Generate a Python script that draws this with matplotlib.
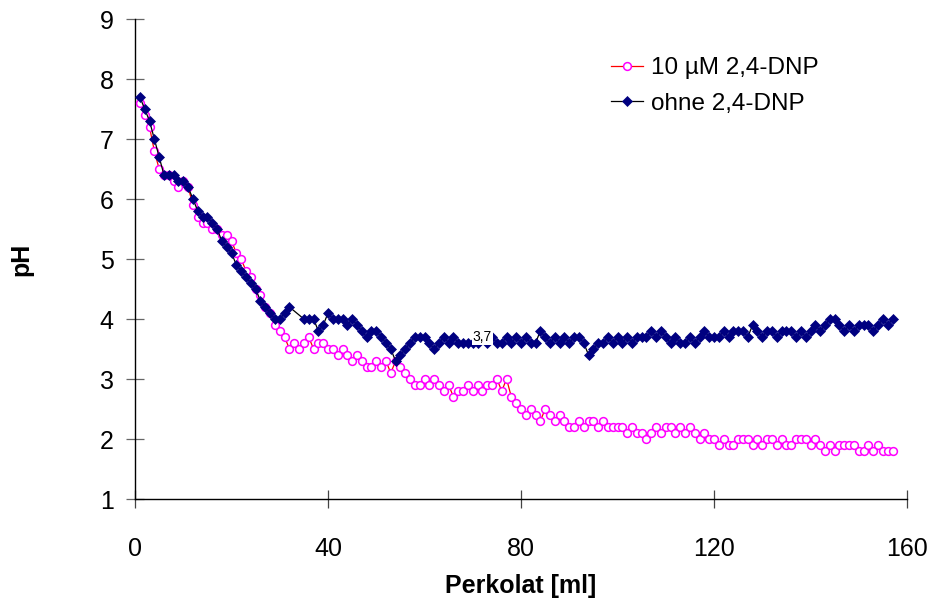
import matplotlib.pyplot as plt

plt.rcParams["font.family"] = ["Liberation Sans", "DejaVu Sans"]

# percolate volume in ml, one reading per ml
perkolat_ml = list(range(1, 158))

ph_dnp = [
    7.6, 7.4, 7.2, 6.8, 6.5, 6.4, 6.4, 6.3, 6.2, 6.3,
    6.2, 5.9, 5.7, 5.6, 5.6, 5.5, 5.5, 5.4, 5.4, 5.3,
    5.1, 5.0, 4.8, 4.7, 4.5, 4.4, 4.2, 4.1, 3.9, 3.8,
    3.7, 3.5, 3.6, 3.5, 3.6, 3.7, 3.5, 3.6, 3.6, 3.5,
    3.5, 3.4, 3.5, 3.4, 3.3, 3.4, 3.3, 3.2, 3.2, 3.3,
    3.2, 3.3, 3.1, 3.3, 3.2, 3.1, 3.0, 2.9, 2.9, 3.0,
    2.9, 3.0, 2.9, 2.8, 2.9, 2.7, 2.8, 2.8, 2.9, 2.8,
    2.9, 2.8, 2.9, 2.9, 3.0, 2.8, 3.0, 2.7, 2.6, 2.5,
    2.4, 2.5, 2.4, 2.3, 2.5, 2.4, 2.3, 2.4, 2.3, 2.2,
    2.2, 2.3, 2.2, 2.3, 2.3, 2.2, 2.3, 2.2, 2.2, 2.2,
    2.2, 2.1, 2.2, 2.1, 2.1, 2.0, 2.1, 2.2, 2.1, 2.2,
    2.2, 2.1, 2.2, 2.1, 2.2, 2.1, 2.0, 2.1, 2.0, 2.0,
    1.9, 2.0, 1.9, 1.9, 2.0, 2.0, 2.0, 1.9, 2.0, 1.9,
    2.0, 2.0, 1.9, 2.0, 1.9, 1.9, 2.0, 2.0, 2.0, 1.9,
    2.0, 1.9, 1.8, 1.9, 1.8, 1.9, 1.9, 1.9, 1.9, 1.8,
    1.8, 1.9, 1.8, 1.9, 1.8, 1.8, 1.8,
]

# None = no reading (line is drawn straight across)
ph_ohne = [
    7.7, 7.5, 7.3, 7.0, 6.7, 6.4, 6.4, 6.4, 6.3, 6.3,
    6.2, 6.0, 5.8, 5.7, 5.7, 5.6, 5.5, 5.3, 5.2, 5.1,
    4.9, 4.8, 4.7, 4.6, 4.5, 4.3, 4.2, 4.1, 4.0, 4.0,
    4.1, 4.2, None, None, 4.0, 4.0, 4.0, 3.8, 3.9, 4.1,
    4.0, 4.0, 4.0, 3.9, 4.0, 3.9, 3.8, 3.7, 3.8, 3.8,
    3.7, 3.6, 3.5, 3.3, 3.4, 3.5, 3.6, 3.7, 3.7, 3.7,
    3.6, 3.5, 3.6, 3.7, 3.6, 3.7, 3.6, 3.6, 3.6, 3.6,
    3.6, 3.7, 3.6, 3.7, 3.6, 3.6, 3.7, 3.6, 3.7, 3.6,
    3.7, 3.6, 3.6, 3.8, 3.7, 3.6, 3.7, 3.6, 3.7, 3.6,
    3.7, 3.7, 3.6, 3.4, 3.5, 3.6, 3.6, 3.7, 3.6, 3.7,
    3.6, 3.7, 3.6, 3.7, 3.7, 3.7, 3.8, 3.7, 3.8, 3.7,
    3.6, 3.7, 3.6, 3.6, 3.7, 3.6, 3.7, 3.8, 3.7, 3.7,
    3.7, 3.8, 3.7, 3.8, 3.8, 3.8, 3.7, 3.9, 3.8, 3.7,
    3.8, 3.8, 3.7, 3.8, 3.8, 3.8, 3.7, 3.8, 3.7, 3.8,
    3.9, 3.8, 3.9, 4.0, 4.0, 3.9, 3.8, 3.9, 3.8, 3.9,
    3.9, 3.9, 3.8, 3.9, 4.0, 3.9, 4.0,
]

label_ml = 72  # the single data label shown in the original

x_ticks = [0, 40, 80, 120, 160]
y_ticks = [1, 2, 3, 4, 5, 6, 7, 8, 9]

fig = plt.figure(figsize=(9.32, 6.0), dpi=100)
ax = fig.add_axes([0.1449, 0.1683, 0.8283, 0.80])

ax.plot(perkolat_ml, ph_dnp, color="#ff0000", lw=0.9,
        marker="o", ms=5.6, mfc="white", mec="#ff00ff", mew=1.1,
        label="10 \u00b5M 2,4-DNP", zorder=3)

x_ohne = [x for x, v in zip(perkolat_ml, ph_ohne) if v is not None]
y_ohne = [v for v in ph_ohne if v is not None]
ax.plot(x_ohne, y_ohne, color="black", lw=0.9,
        marker="D", ms=5.0, mfc="#000080", mec="#000080", mew=0.5,
        label="ohne 2,4-DNP", zorder=4)

lbl_val = ph_ohne[perkolat_ml.index(label_ml)]
ax.text(label_ml, lbl_val, f"{lbl_val:.1f}".replace(".", ","),
        ha="center", va="center", fontsize=10, color="black", zorder=6,
        bbox=dict(facecolor="white", edgecolor="none", pad=0.5))

ax.set_xlim(0, 160)
ax.set_ylim(1, 9)
ax.set_xticks(x_ticks)
ax.set_yticks(y_ticks)

for side in ("top", "right"):
    ax.spines[side].set_visible(False)
for side in ("left", "bottom"):
    ax.spines[side].set_linewidth(1.0)
    ax.spines[side].set_color("black")

ax.tick_params(axis="x", direction="inout", length=13, width=0.9, color="#444444",
               labelsize=18, pad=21)
ax.tick_params(axis="y", direction="inout", length=13, width=0.9, color="#666666",
               labelsize=18, pad=9)

ax.set_xlabel("Perkolat [ml]", fontsize=18, fontweight="bold", labelpad=9)
ax.set_ylabel("pH", fontsize=18, fontweight="bold", labelpad=48)

ax.legend(loc="upper left", bbox_to_anchor=(0.617, 0.92), frameon=False,
          fontsize=17.5, handlelength=1.3, handletextpad=0.35,
          labelspacing=0.55, borderpad=0, borderaxespad=0, numpoints=1)

fig.savefig("out.png", dpi=100)
